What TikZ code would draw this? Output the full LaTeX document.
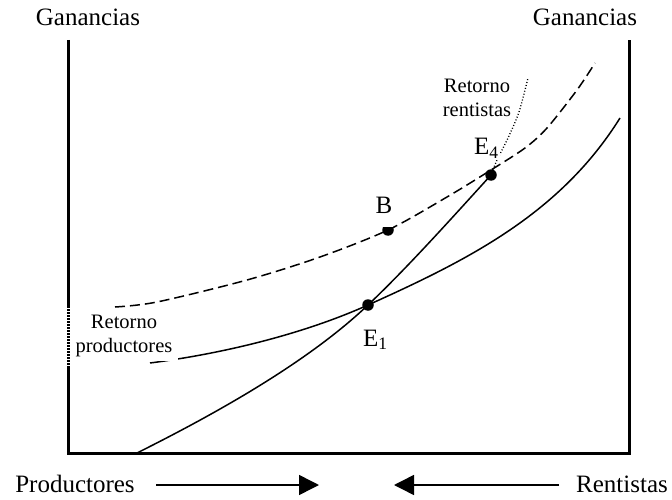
\documentclass[tikz,border=0pt]{standalone}
\usepackage{fontspec}
\setmainfont{Liberation Serif}
\usetikzlibrary{arrows.meta}
\begin{document}
\begin{tikzpicture}[x=1pt,y=-1pt,
  big/.style={font=\fontsize{25}{30}\selectfont, inner sep=0pt},
  small/.style={font=\fontsize{20.5}{24}\selectfont, align=center, inner sep=0pt},
  axis/.style={line width=3pt, line join=miter},
  curve/.style={line width=1.5pt},
  dashcurve/.style={curve, dash pattern=on 10pt off 5pt},
  dotcurve/.style={line width=1.3pt, dash pattern=on 1pt off 2pt},
  dotnode/.style={circle, fill=black, inner sep=0pt, minimum size=11.5pt},
  arr/.style={line width=1.5pt, -{Triangle[length=20pt,width=20pt]}}
]
\useasboundingbox (0,0) rectangle (672,500);

% axes
\draw[axis] (68,40) -- (68,453) -- (629,453) -- (629,40);

% key points
\coordinate (E1) at (368,305);
\coordinate (E4) at (491,175);
\coordinate (Bp) at (388,230);

% curves
\draw[dashcurve] plot[smooth] coordinates {(115,307) (157,302) (247,280) (320,257) (Bp) (447,197) (491,170) (525,148) (547,128) (577,90) (595,63)};
\draw[curve] (150,363) .. controls (230,352.6) and (308,332) .. (E1)
                       .. controls (468,260) and (560,214) .. (620,118);
\draw[curve] (137,453) .. controls (217,413) and (308,362) .. (E1)
                       .. controls (408,267) and (451,219) .. (E4);
\draw[dotcurve] plot[smooth] coordinates {(E4) (497,160) (508,138) (519,112) (528,78)};

% dots
\node[dotnode] (dE1) at (E1) {};
\node[dotnode] (dE4) at (E4) {};
\node[dotnode] (dB) at (Bp) {};

% labels
\node[big, anchor=base] (gl) at (88,26) {Ganancias};
\node[big, anchor=base] (gr) at (585,26) {Ganancias};
\node[big, anchor=base] (prod) at (75,492) {Productores};
\node[big, anchor=base] (rent) at (622,492) {Rentistas};

\node[small, fill=white, minimum width=108pt, minimum height=50pt] (rp) at (124,336) {Retorno\\productores};
\draw[white, line width=3.5pt] (68,306) -- (68,368);
\draw[line width=3pt, dash pattern=on 1.5pt off 1.5pt] (68,306) -- (68,368);

\node[small] (rr) at (477,98) {Retorno\\rentistas};
\node[big, anchor=base west, fill=white, inner sep=1pt] (e4l) at (473,155) {E\textsubscript{4}};
\node[big, anchor=base west] (e1l) at (363,346) {E\textsubscript{1}};
\node[big, anchor=base, fill=white, inner sep=1pt, text depth=13pt] (bl) at (384,213) {B};

% arrows
\coordinate (a1s) at (156,485);
\coordinate (a1e) at (319,485);
\coordinate (a2s) at (559,485);
\coordinate (a2e) at (394,485);
\draw[arr] (a1s) -- (a1e);
\draw[arr] (a2s) -- (a2e);
\end{tikzpicture}
\end{document}
